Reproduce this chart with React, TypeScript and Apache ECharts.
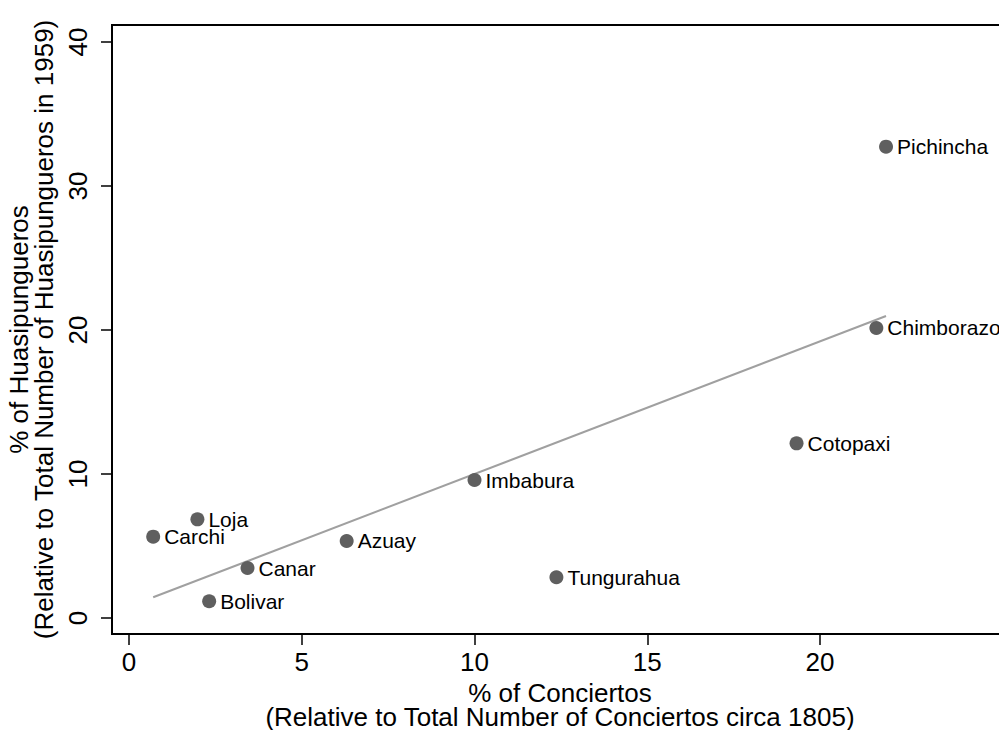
import React, { useEffect, useRef } from "react";
import * as echarts from "echarts";

const provinces = ["Pichincha", "Chimborazo", "Cotopaxi", "Imbabura", "Tungurahua", "Loja", "Carchi", "Azuay", "Canar", "Bolivar"];
const conciertosPct = [21.91, 21.63, 19.32, 10.0, 12.37, 1.98, 0.7, 6.3, 3.43, 2.32];
const huasipunguerosPct = [32.73, 20.14, 12.13, 9.58, 2.83, 6.85, 5.65, 5.35, 3.47, 1.16];
const fitX = [0.7, 21.91];
const fitY = [1.44, 20.97];
const xTicks = [0, 5, 10, 15, 20];
const yTicks = [0, 10, 20, 30, 40];

const FONT = "'Liberation Sans', Arial, Helvetica, sans-serif";

export default function App() {
  const ref = useRef<HTMLDivElement>(null);
  useEffect(() => {
    if (!ref.current) return;
    const chart = echarts.init(ref.current, undefined, { renderer: "svg" });
    const scatterData = provinces.map((p, i) => ({ value: [conciertosPct[i], huasipunguerosPct[i]], name: p }));
    const fitData = fitX.map((x, i) => [x, fitY[i]]);
    chart.setOption({
      animation: false,
      backgroundColor: "#ffffff",
      grid: {
        left: 112,
        top: 25,
        right: -9,
        bottom: 96,
        show: true,
        borderColor: "#000",
        borderWidth: 2,
        backgroundColor: "#ffffff",
        containLabel: false,
        outerBoundsMode: "none",
      },
      xAxis: {
        type: "value",
        min: -0.492,
        max: 25.44,
        name: "% of Conciertos\n(Relative to Total Number of Conciertos circa 1805)",
        nameLocation: "middle",
        nameGap: 41,
        nameTextStyle: { fontSize: 26, fontFamily: FONT, color: "#000", lineHeight: 24 },
        axisLine: { show: true, onZero: false, lineStyle: { color: "#000", width: 2 } },
        axisTick: { show: true, customValues: xTicks, length: 11, lineStyle: { color: "#000", width: 1.5 } },
        axisLabel: { customValues: xTicks, fontSize: 26, fontFamily: FONT, color: "#000", margin: 15 },
        splitLine: { show: false },
      },
      yAxis: {
        type: "value",
        min: -1.111,
        max: 41.18,
        name: "% of Huasipungueros\n(Relative to Total Number of Huasipungueros in 1959)",
        nameLocation: "middle",
        nameGap: 41,
        nameTextStyle: { fontSize: 26, fontFamily: FONT, color: "#000", lineHeight: 25 },
        axisLine: { show: true, onZero: false, lineStyle: { color: "#000", width: 2 } },
        axisTick: { show: true, customValues: yTicks, length: 11, lineStyle: { color: "#000", width: 1.5 } },
        axisLabel: { customValues: yTicks, rotate: 90, fontSize: 26, fontFamily: FONT, color: "#000", margin: 21 },
        splitLine: { show: false },
      },
      series: [
        {
          type: "line",
          data: fitData,
          symbol: "none",
          lineStyle: { color: "#a0a0a0", width: 2 },
          silent: true,
          z: 2,
        },
        {
          type: "scatter",
          data: scatterData,
          symbol: "circle",
          symbolSize: 14,
          itemStyle: { color: "#5f5f5f", opacity: 1 },
          label: {
            show: true,
            position: "right",
            distance: 4,
            formatter: (p: any) => p.name,
            fontSize: 21,
            fontFamily: FONT,
            color: "#000",
          },
          z: 3,
        },
      ],
    });
    return () => chart.dispose();
  }, []);
  return <div ref={ref} style={{ position: "fixed", left: 0, top: 0, width: 999, height: 730 }} />;
}
